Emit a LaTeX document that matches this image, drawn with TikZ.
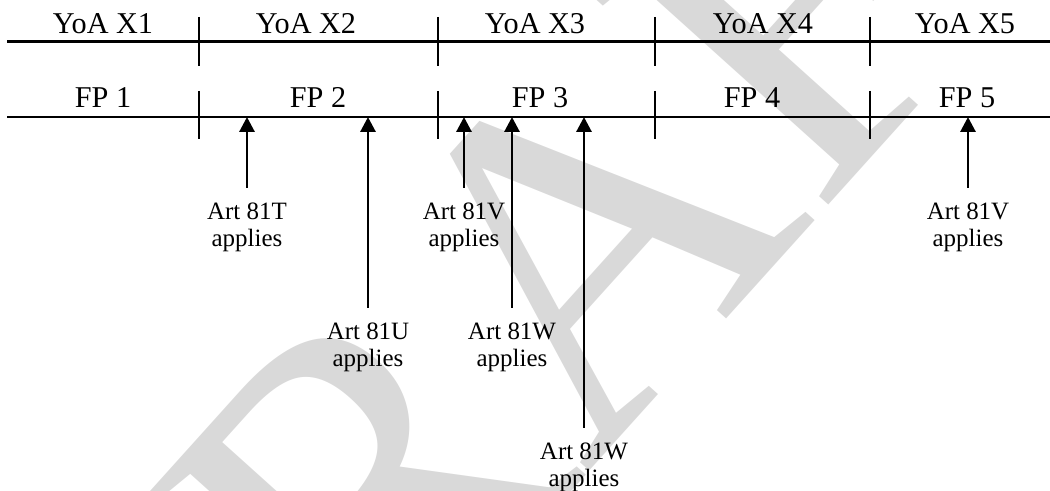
\documentclass[tikz,border=0pt]{standalone}
\usepackage{fontspec}
\setmainfont{Liberation Serif}
\usetikzlibrary{arrows.meta,positioning}
\definecolor{wmgray}{HTML}{D9D9D9}

\begin{document}
\begin{tikzpicture}[line width=0.6pt,
  big/.style={font=\fontsize{8.6}{10}\selectfont, anchor=base},
  lab/.style={font=\fontsize{7.1}{7.7}\selectfont, align=center, inner sep=0pt},
  arr/.style={line width=0.85pt, -{Triangle[width=0.15cm,length=0.15cm]}}]
  \useasboundingbox (0,0) rectangle (10.5,-4.91);

  % watermark behind everything
  \begin{scope}
    \clip (0,0) rectangle (10.5,-4.91);
    \node[rotate=48, text=wmgray, inner sep=0pt,
          font=\fontsize{136}{136}\selectfont] (wm) at (5.50,-2.80) {DRAFT};
  \end{scope}

  % the two lines: years of assessment and filing periods
  \coordinate (YL) at (0.07,-0.415);
  \coordinate (YR) at (10.5,-0.415);
  \coordinate (FL) at (0.07,-1.17);
  \coordinate (FR) at (10.5,-1.17);
  \draw (YL) -- (YR);
  \draw (FL) -- (FR);

  % period boundaries
  \draw (1.99,-0.17) -- (1.99,-0.66)  (4.38,-0.17) -- (4.38,-0.66)
        (6.55,-0.17) -- (6.55,-0.66)  (8.70,-0.17) -- (8.70,-0.66);
  \draw (1.99,-0.91) -- (1.99,-1.39)  (4.38,-0.91) -- (4.38,-1.39)
        (6.55,-0.91) -- (6.55,-1.39)  (8.70,-0.91) -- (8.70,-1.39);

  % labels above the lines
  \node[big] (Y1) at (1.03,-0.34) {YoA X1};
  \node[big] (Y2) at (3.06,-0.34) {YoA X2};
  \node[big] (Y3) at (5.35,-0.34) {YoA X3};
  \node[big] (Y4) at (7.63,-0.34) {YoA X4};
  \node[big] (Y5) at (9.65,-0.34) {YoA X5};
  \node[big] (F1) at (1.03,-1.08) {FP 1};
  \node[big] (F2) at (3.18,-1.08) {FP 2};
  \node[big] (F3) at (5.40,-1.08) {FP 3};
  \node[big] (F4) at (7.52,-1.08) {FP 4};
  \node[big] (F5) at (9.67,-1.08) {FP 5};

  % where each article starts to apply
  \coordinate (T) at (2.47,-1.88);
  \coordinate (U) at (3.68,-3.08);
  \coordinate (V) at (4.64,-1.88);
  \coordinate (W) at (5.12,-3.08);
  \coordinate (Wb) at (5.84,-4.28);
  \coordinate (Vb) at (9.68,-1.88);

  \node[lab, below=0.14 of T]  (lT)  {Art 81T\\applies};
  \node[lab, below=0.14 of U]  (lU)  {Art 81U\\applies};
  \node[lab, below=0.14 of V]  (lV)  {Art 81V\\applies};
  \node[lab, below=0.14 of W]  (lW)  {Art 81W\\applies};
  \node[lab, below=0.14 of Wb] (lWb) {Art 81W\\applies};
  \node[lab, below=0.14 of Vb] (lVb) {Art 81V\\applies};

  \draw[arr] (T)  -- (T  |- FL);
  \draw[arr] (U)  -- (U  |- FL);
  \draw[arr] (V)  -- (V  |- FL);
  \draw[arr] (W)  -- (W  |- FL);
  \draw[arr] (Wb) -- (Wb |- FL);
  \draw[arr] (Vb) -- (Vb |- FL);
\end{tikzpicture}
\end{document}
